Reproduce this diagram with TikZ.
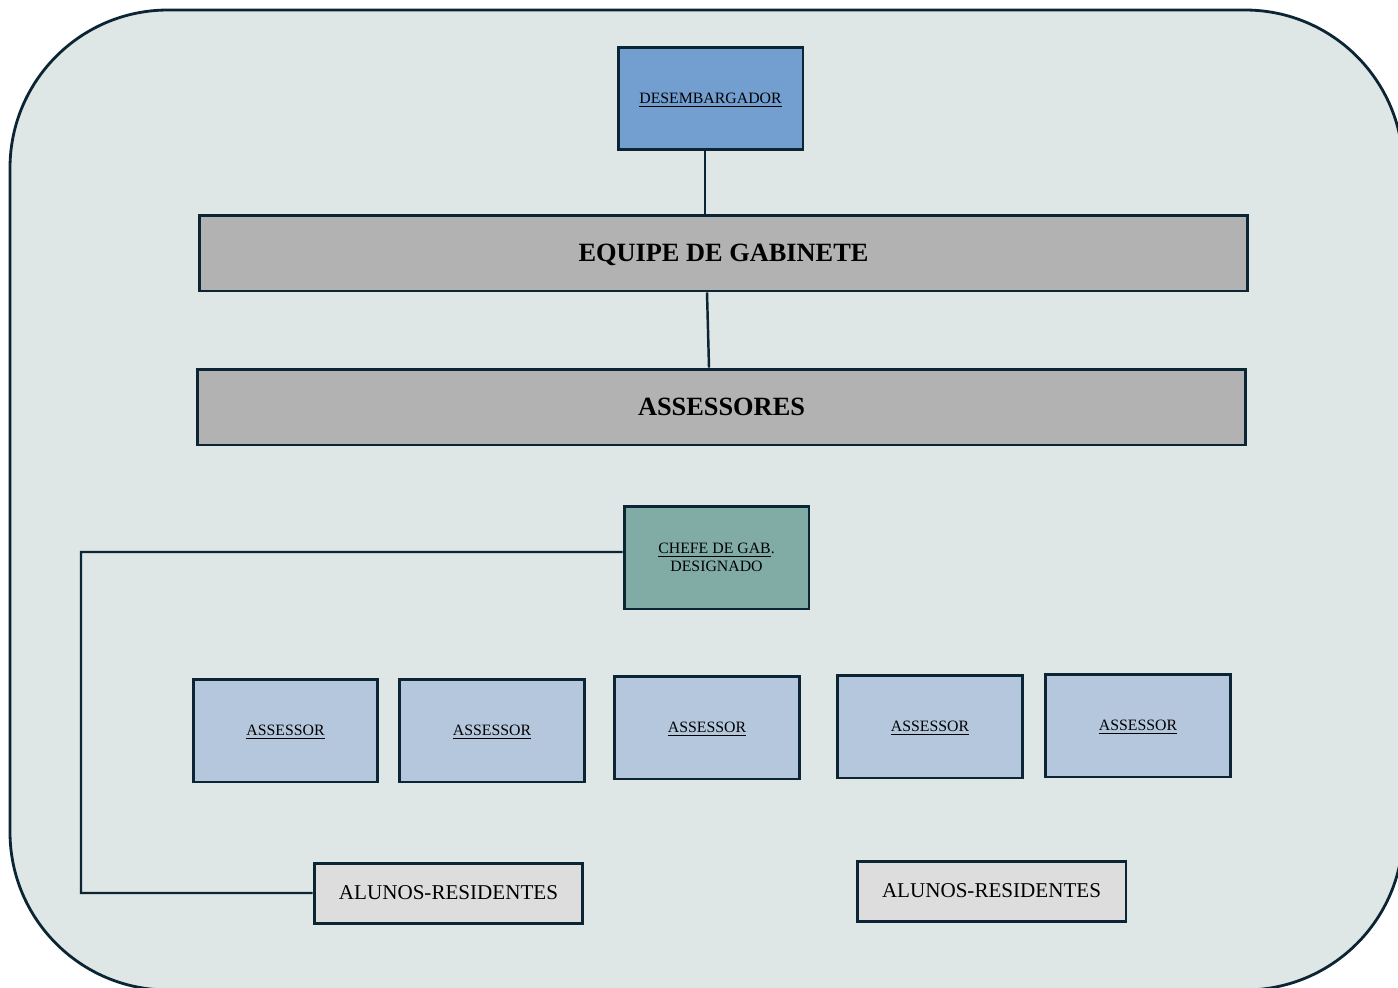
\documentclass[tikz,border=0pt]{standalone}
\usepackage{fontspec}
\setmainfont{Liberation Serif}
\definecolor{PanelGray}{RGB}{222,230,230}
\definecolor{FrameNavy}{RGB}{11,37,53}
\definecolor{JudgeBlue}{RGB}{114,159,207}
\definecolor{BarGray}{RGB}{178,178,178}
\definecolor{ChiefTeal}{RGB}{129,172,166}
\definecolor{AideBlue}{RGB}{180,199,220}
\definecolor{StudentGray}{RGB}{221,221,221}

\begin{document}
\begin{tikzpicture}[x=0.02cm, y=-0.02cm,
    unitbox/.style={draw=FrameNavy, line width=1.7pt, minimum width=3.7cm, minimum height=2.06cm,
                    inner sep=0pt, align=center, text depth=0pt, font=\fontsize{9}{10.5}\selectfont},
    barbox/.style={draw=FrameNavy, fill=BarGray, line width=1.7pt, minimum width=20.98cm, minimum height=1.52cm,
                   inner sep=0pt, text depth=0pt, font=\bfseries\fontsize{15}{18}\selectfont},
    studentbox/.style={draw=FrameNavy, fill=StudentGray, line width=1.7pt, minimum width=5.38cm, minimum height=1.2cm,
                       inner sep=0pt, text depth=0pt, font=\fontsize{12}{14}\selectfont},
    link/.style={FrameNavy, line width=1.4pt}]
    % page and outer panel
    \useasboundingbox (0,0) rectangle (1398,987);
    \clip (0,0) rectangle (1398,987);
    \fill[white] (0,0) rectangle (1398,987);
    \draw[FrameNavy, fill=PanelGray, line width=1.6pt, rounded corners=3.16cm] (10,10) rectangle (1403,990);

    % top of the chart
    \node[unitbox, fill=JudgeBlue] (desemb) at (710.5, 98.5) {\underline{DESEMBARGADOR}};
    \node[barbox] (equipe) at (723.5, 253) {EQUIPE DE GABINETE};
    \node[barbox] (assessores) at (721.5, 407) {ASSESSORES};
    \draw[link] ([xshift=-0.11cm]desemb.south) -- ([xshift=-0.11cm]desemb.south |- equipe.north);
    \draw[link] ([xshift=-0.33cm]equipe.south) -- ([xshift=-0.25cm]assessores.north);

    % chefe de gabinete
    \node[unitbox, fill=ChiefTeal] (chefe) at (716.5, 557.5) {\underline{CHEFE DE GAB}.\\DESIGNADO};

    % assessores
    \foreach \px/\py/\name in {285.5/730.5/as1, 492/730.5/as2, 707/727.5/as3,
                               930/726.5/as4, 1138/725.5/as5} {
        \node[unitbox, fill=AideBlue] (\name) at (\px, \py) {\underline{ASSESSOR}};
    }

    % alunos-residentes
    \node[studentbox] (alunos1) at (448.5, 893) {ALUNOS-RESIDENTES};
    \node[studentbox] (alunos2) at (991.5, 891) {ALUNOS-RESIDENTES};

    \coordinate (bend) at (81, 552);
    \draw[link] ([yshift=0.11cm]chefe.west) -- (bend) |- (alunos1.west);
\end{tikzpicture}
\end{document}
